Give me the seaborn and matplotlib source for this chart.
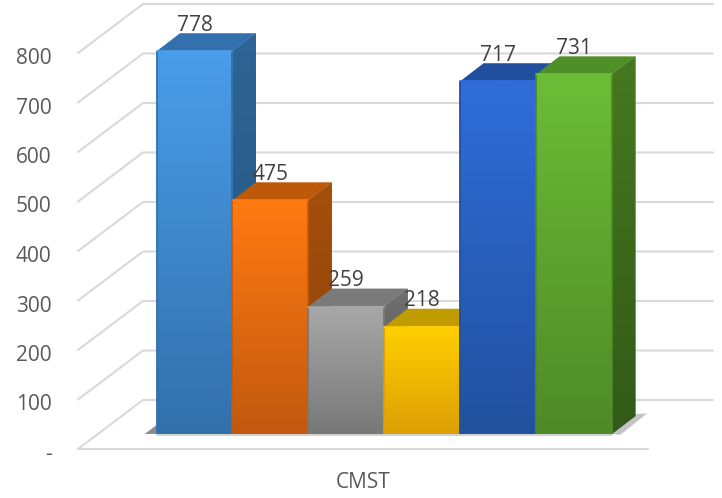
import numpy as np
import pandas as pd
import matplotlib.pyplot as plt
from matplotlib.colors import to_rgb
from matplotlib.patches import Polygon
from matplotlib.transforms import ScaledTranslation
import seaborn as sns

# Values
series_ids = ['s1', 's2', 's3', 's4', 's5', 's6']
values = [778, 475, 259, 218, 717, 731]
y_ticks = [0, 100, 200, 300, 400, 500, 600, 700, 800]
y_tick_labels = ['-', '100', '200', '300', '400', '500', '600', '700', '800']
category_label = 'CMST'

front_top = ['#4a9de9', '#ff7a12', '#a8a8a8', '#ffcf00', '#2f6dda', '#6cbd37']
front_bottom = ['#3270ab', '#c2590f', '#787878', '#dd9f05', '#22519e', '#4f8a28']
top_color = ['#3570ae', '#bd5a0a', '#7a7a7a', '#c09c00', '#214f9e', '#4f8f28']
side_top = ['#2e6596', '#a64f0b', '#6e6e6e', '#a88600', '#1d4688', '#45791f']
side_bottom = ['#24517c', '#8c4308', '#5c5c5c', '#8f7200', '#1a3d78', '#325a18']

W, H = 722, 498
sns.set_theme(style='white')
plt.rcParams['font.family'] = ['Open Sans', 'DejaVu Sans']

fig = plt.figure(figsize=(W / 100, H / 100), dpi=100)

# Chart frame: the floor edge and the value scale in front of the walls
frame = fig.add_axes([78 / W, (H - 449) / H, 570 / W, 396 / H])
frame.set_xlim(0, 1)
frame.set_ylim(0, 800)
sns.despine(ax=frame, left=True, bottom=True)
frame.set_yticks(y_ticks)
frame.set_yticklabels(y_tick_labels, fontsize=15, color='#595959')
frame.set_xticks([0.5])
frame.set_xticklabels([category_label], fontsize=15, color='#595959')
frame.tick_params(axis='y', length=0, pad=19)
frame.tick_params(axis='x', length=0, pad=16.5)
frame.patch.set_alpha(0)

# the labels sit a little under their gridline ends
shift = ScaledTranslation(0, -3 / 100, fig.dpi_scale_trans)
for label in frame.get_yticklabels():
    label.set_transform(label.get_transform() + shift)

depth_x = 65 / 570
depth_y = 49 / 396 * 800
right_end = (713 - 78) / 570
for tick in y_ticks:
    frame.plot([0, depth_x, right_end], [tick, tick + depth_y, tick + depth_y],
               color='#d9d9d9', lw=1.5, clip_on=False, zorder=1)
frame.plot([0, 1], [0, 0], color='#d9d9d9', lw=1.5, clip_on=False, zorder=1)

# Bars live in a full-figure axes so the 3D faces can go anywhere
ax = fig.add_axes([0, 0, 1, 1])
ax.patch.set_alpha(0)
ax.set_axis_off()

step_px = 75.9
scale_px = 0.492
bar_x0 = 194.5
base_px = 434
xlim = (-bar_x0 / step_px, (W - bar_x0) / step_px)
ylim = (-(H - base_px) / scale_px, base_px / scale_px)

df = pd.DataFrame({'series': series_ids, 'value': values})
sns.barplot(data=df, x='series', y='value', hue='series', palette=front_top,
            width=1, legend=False, ax=ax)
ax.set_axis_off()

bar_dx = 23.5 / step_px
bar_dy = 18 / scale_px


def gradient_fill(patch, color_top, color_bottom, z):
    # vertical gradient clipped to a patch
    c0, c1 = np.array(to_rgb(color_top)), np.array(to_rgb(color_bottom))
    t = np.linspace(0, 1, 128)[:, None, None]
    grad = c0[None, None, :] * (1 - t) + c1[None, None, :] * t
    box = patch.get_path().transformed(patch.get_patch_transform()).get_extents()
    im = ax.imshow(grad, extent=[box.x0, box.x1, box.y0, box.y1], aspect='auto',
                   origin='upper', zorder=z, interpolation='bilinear')
    im.set_clip_path(patch)


# Soft floor shadows on both ends of the row
left = ax.patches[0].get_x()
right = ax.patches[-1].get_x() + ax.patches[-1].get_width()
ax.add_patch(Polygon([(left, 0), (left, bar_dy * 0.5), (left - bar_dx * 0.5, 0)],
                     closed=True, color='#8c8c8c', lw=0, zorder=3))
ax.add_patch(Polygon([(right, 0), (right + bar_dx, bar_dy * 1.1),
                      (right + bar_dx * 1.5, bar_dy * 1.15), (right + bar_dx * 0.35, -2)],
                     closed=True, color='#c4c4c4', lw=0, zorder=3))
ax.plot([left, right], [-1.5, -1.5], color='#c9c9c9', lw=1.2, zorder=3)

for i, (bar, value) in enumerate(zip(ax.patches[:len(values)], values)):
    x0, x1 = bar.get_x(), bar.get_x() + bar.get_width()
    z = 10 + 4 * i

    side = Polygon([(x1, 0), (x1 + bar_dx, bar_dy), (x1 + bar_dx, value + bar_dy), (x1, value)],
                   closed=True, lw=0, zorder=z)
    ax.add_patch(side)
    gradient_fill(side, side_top[i], side_bottom[i], z)

    top = Polygon([(x0, value), (x0 + bar_dx, value + bar_dy),
                   (x1 + bar_dx, value + bar_dy), (x1, value)],
                  closed=True, color=top_color[i], lw=0, zorder=z + 1)
    ax.add_patch(top)

    bar.set_zorder(z + 2)
    bar.set_edgecolor('none')
    gradient_fill(bar, front_top[i], front_bottom[i], z + 2)

    # darker seam down each side of the front face, light rim along its top
    ax.plot([x0, x0], [0, value], color=front_bottom[i], lw=1.3, zorder=z + 3, solid_capstyle='butt')
    ax.plot([x1, x1], [0, value], color=front_bottom[i], lw=1.3, zorder=z + 3, solid_capstyle='butt')
    ax.plot([x0, x1], [value, value], color=front_top[i], lw=1.2, zorder=z + 3)

    ax.text(i, value + 26 / scale_px, str(value), ha='center', va='center',
            fontsize=15, color='#404040', zorder=z + 1)

ax.set_xlim(*xlim)
ax.set_ylim(*ylim)

fig.savefig('out.png', dpi=100)
